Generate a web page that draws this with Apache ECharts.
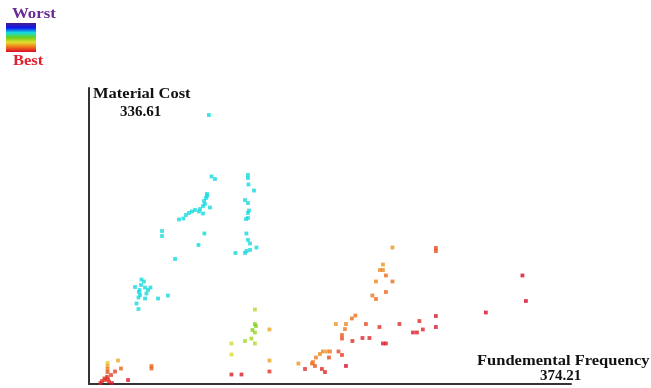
<!DOCTYPE html>
<html>
<head>
<meta charset="utf-8">
<script src="https://cdn.jsdelivr.net/npm/echarts@6/dist/echarts.min.js"></script>
<style>
  html, body { margin: 0; padding: 0; background: #ffffff; }
  #chart { width: 651px; height: 388px; }
</style>
</head>
<body>
<div id="chart"></div>
<script>
// Axis captions and the value printed at the end of each axis
const axisNames = ['Fundemental Frequency', 'Material Cost'];
const axisMax = [374.21, 336.61];
const axisMaxLabels = ['374.21', '336.61'];
const rankLabels = ['Worst', 'Best'];

// Design points: [fundamental frequency, material cost, rank]  (rank 0 = best, 1 = worst)
const upperGroup = [
  [93.1, 305.9, 0.67], [95.1, 236.0, 0.67], [97.8, 233.1, 0.67], [123.4, 237.7, 0.67],
  [123.4, 234.3, 0.67], [123.8, 226.9, 0.67], [128.1, 220.0, 0.67], [91.6, 216.1, 0.67],
  [90.8, 211.5, 0.67], [89.3, 208.1, 0.67], [90.0, 204.7, 0.67], [88.5, 202.4, 0.67],
  [93.9, 200.7, 0.67], [121.1, 209.2, 0.67], [123.4, 205.8, 0.67], [124.2, 197.3, 0.67],
  [123.4, 188.8, 0.67], [121.9, 187.6, 0.67], [79.9, 196.2, 0.67], [77.6, 194.5, 0.67],
  [82.3, 197.9, 0.67], [85.4, 196.2, 0.67], [88.5, 193.9, 0.67], [75.3, 192.2, 0.67],
  [73.3, 188.2, 0.67], [69.9, 187.1, 0.67], [56.7, 174.0, 0.67], [56.7, 168.3, 0.67],
  [89.6, 171.2, 0.67], [85.0, 158.1, 0.67], [122.2, 171.2, 0.67], [123.4, 163.8, 0.67],
  [125.0, 159.8, 0.67], [130.0, 155.2, 0.67], [122.2, 151.2, 0.67], [121.1, 149.0, 0.67],
  [113.7, 149.0, 0.67], [66.8, 142.2, 0.67], [91.6, 213.8, 0.67], [86.2, 199.0, 0.67],
  [123.4, 194.5, 0.67], [125.0, 152.4, 0.67]
];
const lowerGroup = [
  [40.7, 118.8, 0.67], [42.7, 116.6, 0.67], [35.7, 110.3, 0.67], [43.5, 109.7, 0.67],
  [47.7, 109.7, 0.67], [45.8, 106.9, 0.67], [38.8, 104.6, 0.67], [39.6, 101.2, 0.67],
  [38.4, 98.4, 0.67], [44.6, 102.9, 0.67], [43.5, 97.2, 0.67], [53.6, 97.2, 0.67],
  [61.3, 100.6, 0.67], [36.9, 91.5, 0.67], [38.4, 85.3, 0.67], [40.4, 112.6, 0.67],
  [39.2, 106.9, 0.67]
];
const middleGroup = [
  [128.8, 84.7, 0.40], [140.1, 62.0, 0.25], [128.8, 68.2, 0.47], [129.6, 66.0, 0.47],
  [126.9, 61.4, 0.47], [128.8, 58.6, 0.44], [126.1, 51.7, 0.42], [121.1, 48.9, 0.42],
  [128.8, 46.1, 0.40], [110.6, 46.1, 0.36], [110.6, 33.5, 0.35], [140.1, 26.7, 0.24],
  [140.1, 14.2, 0.06], [110.6, 10.8, 0.03], [118.4, 10.8, 0.03]
];
const cornerGroup = [
  [22.5, 26.7, 0.25], [14.4, 23.9, 0.30], [14.4, 20.5, 0.25], [14.4, 17.1, 0.18],
  [14.4, 13.6, 0.12], [24.8, 17.6, 0.14], [48.5, 20.5, 0.15], [48.5, 17.6, 0.13],
  [20.2, 14.2, 0.08], [17.1, 10.2, 0.08], [14.0, 8.0, 0.06], [12.0, 6.3, 0.06],
  [10.1, 3.4, 0.05], [15.5, 2.8, 0.04], [8.9, 1.1, 0.04], [17.9, 1.1, 0.02],
  [30.3, 4.5, 0.02], [12.4, 4.5, 0.07], [14.7, 5.7, 0.07]
];
const rightGroup = [
  [235.6, 155.2, 0.22], [269.3, 154.7, 0.10], [269.3, 151.2, 0.10], [228.2, 135.9, 0.22],
  [225.9, 129.6, 0.20], [228.2, 129.6, 0.20], [230.5, 123.4, 0.16], [222.8, 116.6, 0.20],
  [235.6, 116.6, 0.16], [230.5, 104.6, 0.15], [220.0, 100.6, 0.17], [222.8, 96.7, 0.15],
  [336.5, 123.4, 0.00], [339.2, 94.4, 0.00], [308.1, 81.3, 0.00], [206.8, 77.9, 0.17],
  [204.1, 74.5, 0.16], [191.7, 68.2, 0.22], [199.5, 68.2, 0.20], [215.0, 68.2, 0.10],
  [225.5, 64.8, 0.06], [241.0, 68.2, 0.05], [256.5, 71.6, 0.05], [269.3, 77.3, 0.02],
  [269.3, 64.8, 0.02], [259.2, 62.0, 0.04], [251.5, 58.6, 0.03], [254.6, 58.6, 0.03],
  [198.7, 62.5, 0.18], [196.4, 55.7, 0.13], [196.4, 51.7, 0.10], [212.3, 52.3, 0.04],
  [217.7, 52.3, 0.04], [204.5, 48.9, 0.05], [228.2, 46.1, 0.02], [230.5, 46.1, 0.02],
  [181.6, 37.0, 0.20], [184.7, 37.0, 0.22], [187.1, 37.0, 0.18], [179.3, 34.1, 0.20],
  [176.2, 30.1, 0.18], [186.3, 30.1, 0.10], [193.7, 37.0, 0.10], [196.4, 33.0, 0.08],
  [162.6, 23.3, 0.22], [173.1, 23.3, 0.15], [175.4, 20.5, 0.12], [167.7, 17.1, 0.05],
  [180.8, 17.1, 0.05], [183.2, 13.6, 0.04], [199.5, 20.5, 0.00], [173.9, 25.0, 0.18]
];

// Rank colour scale, best (red) to worst (purple)
const rankColors = ['#d80c2a', '#f07018', '#e4dc30', '#6cd01c', '#14dede', '#0a18ee', '#4c1a8c'];

const points = [].concat(upperGroup, lowerGroup, middleGroup, cornerGroup, rightGroup);

const captionFont = 'bold 15px "Liberation Serif", "DejaVu Serif", serif';

const chart = echarts.init(document.getElementById('chart'), null, { renderer: 'canvas' });
chart.setOption({
  animation: false,
  backgroundColor: '#ffffff',
  grid: { left: 89, right: 80, top: 88, bottom: 4, containLabel: false },
  xAxis: {
    type: 'value', min: 0, max: axisMax[0],
    axisLine: { show: true, onZero: false, lineStyle: { color: '#333333', width: 2 } },
    axisTick: { show: false }, axisLabel: { show: false }, splitLine: { show: false }
  },
  yAxis: {
    type: 'value', min: 0, max: axisMax[1],
    axisLine: { show: true, onZero: false, lineStyle: { color: '#333333', width: 2 } },
    axisTick: { show: false }, axisLabel: { show: false }, splitLine: { show: false }
  },
  visualMap: {
    show: false, type: 'continuous', min: 0, max: 1, dimension: 2,
    inRange: { color: rankColors }
  },
  series: [{
    type: 'scatter',
    symbol: 'rect',
    symbolSize: 3.8,
    data: points,
    silent: true
  }],
  graphic: [
    // rank legend: gradient bar with captions
    {
      type: 'text', x: 12, y: 7, scaleX: 1.12,
      style: { text: rankLabels[0], font: captionFont, fill: '#6a2c94' }
    },
    {
      type: 'rect', left: 6, top: 23,
      shape: { width: 30, height: 29 },
      style: {
        fill: new echarts.graphic.LinearGradient(0, 0, 0, 1, rankColors.slice().reverse().map((c, i, a) => ({
          offset: i / (a.length - 1), color: c
        })))
      }
    },
    {
      type: 'text', x: 13, y: 54, scaleX: 1.1,
      style: { text: rankLabels[1], font: captionFont, fill: '#e0202c' }
    },
    // axis captions
    {
      type: 'text', x: 93, y: 87, scaleX: 1.1,
      style: { text: axisNames[1], font: captionFont, fill: '#111111' }
    },
    {
      type: 'text', x: 120, y: 105,
      style: { text: axisMaxLabels[1], font: captionFont, fill: '#111111' }
    },
    {
      type: 'text', x: 477, y: 354, scaleX: 1.1,
      style: { text: axisNames[0], font: captionFont, fill: '#111111' }
    },
    {
      type: 'text', x: 540, y: 369,
      style: { text: axisMaxLabels[0], font: captionFont, fill: '#111111' }
    }
  ]
});
</script>
</body>
</html>
